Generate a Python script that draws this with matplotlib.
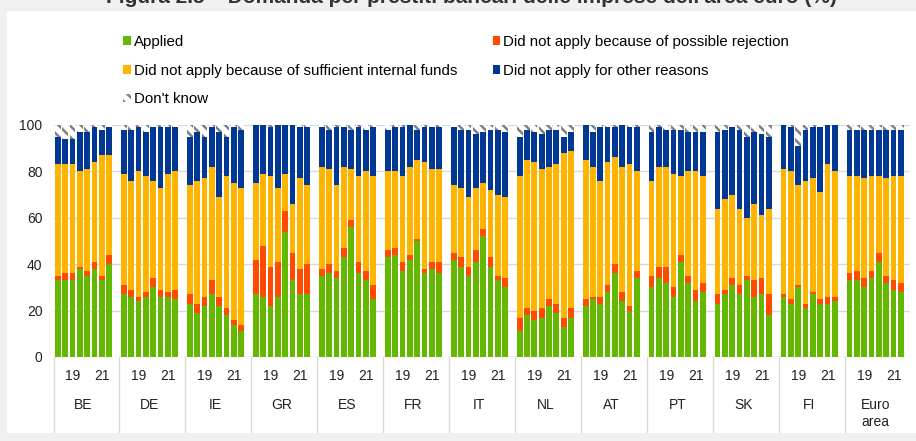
import numpy as np
import matplotlib.pyplot as plt
from matplotlib.patches import Rectangle
import matplotlib.transforms as mtransforms

# Countries and half-year survey rounds (8 per country, labelled 19 and 21)
countries = ["BE", "DE", "IE", "GR", "ES", "FR", "IT", "NL", "AT", "PT", "SK", "FI", "Euro\narea"]
year_labels = ["19", "21"]
year_pos = [2, 6]

# Shares of firms (%), one row per country
applied = [
    [33, 33, 33, 38, 35, 38, 33, 40],
    [27, 26, 24, 26, 30, 26, 26, 25],
    [23, 19, 22, 27, 22, 18, 14, 11],
    [27, 26, 22, 26, 54, 33, 27, 27],
    [35, 36, 34, 43, 56, 36, 33, 25],
    [43, 44, 37, 42, 50, 36, 38, 36],
    [42, 39, 35, 41, 52, 39, 33, 30],
    [11, 18, 16, 17, 22, 19, 13, 17],
    [22, 25, 23, 28, 36, 24, 20, 34],
    [30, 34, 32, 26, 41, 32, 24, 28],
    [23, 27, 31, 27, 33, 26, 27, 18],
    [26, 23, 30, 21, 27, 23, 23, 24],
    [33, 33, 30, 34, 41, 32, 29, 28],
]
rejection = [
    [2, 3, 3, 1, 2, 3, 2, 4],
    [4, 3, 2, 2, 4, 3, 2, 4],
    [4, 4, 4, 6, 4, 3, 2, 3],
    [15, 22, 17, 15, 9, 12, 11, 13],
    [3, 4, 3, 4, 3, 5, 4, 6],
    [3, 3, 4, 2, 1, 2, 3, 5],
    [3, 4, 4, 5, 3, 4, 2, 4],
    [6, 3, 4, 4, 3, 4, 4, 4],
    [3, 1, 3, 3, 4, 4, 2, 3],
    [5, 5, 7, 4, 3, 3, 5, 4],
    [4, 2, 3, 4, 2, 7, 7, 9],
    [1, 2, 1, 2, 1, 2, 3, 2],
    [3, 4, 4, 3, 4, 3, 4, 4],
]
internal_funds = [
    [48, 47, 47, 41, 44, 43, 52, 43],
    [48, 47, 54, 50, 42, 44, 51, 51],
    [47, 53, 51, 49, 43, 57, 59, 59],
    [33, 31, 39, 32, 16, 21, 39, 34],
    [44, 41, 37, 35, 22, 37, 43, 47],
    [34, 33, 37, 38, 34, 46, 40, 40],
    [29, 30, 30, 27, 20, 29, 35, 35],
    [61, 64, 64, 60, 57, 60, 71, 68],
    [60, 56, 50, 53, 46, 54, 61, 43],
    [41, 43, 43, 49, 34, 45, 51, 46],
    [37, 39, 36, 33, 25, 33, 27, 37],
    [54, 55, 43, 53, 49, 46, 57, 54],
    [42, 41, 43, 41, 33, 42, 45, 46],
]
other_reasons = [
    [12, 11, 11, 17, 16, 15, 11, 12],
    [19, 22, 19, 19, 23, 26, 20, 19],
    [21, 21, 18, 17, 28, 17, 24, 25],
    [25, 21, 21, 27, 21, 34, 22, 25],
    [17, 17, 25, 17, 17, 21, 18, 21],
    [18, 19, 21, 18, 13, 15, 18, 18],
    [25, 25, 29, 23, 22, 26, 28, 28],
    [17, 13, 13, 15, 16, 15, 7, 8],
    [15, 15, 23, 15, 13, 18, 16, 19],
    [21, 17, 16, 19, 20, 17, 17, 19],
    [33, 30, 29, 34, 35, 31, 35, 31],
    [19, 19, 17, 22, 22, 28, 17, 20],
    [20, 20, 21, 20, 20, 21, 20, 20],
]
dont_know = [
    [5, 6, 6, 3, 3, 1, 2, 1],
    [2, 2, 1, 3, 1, 1, 1, 1],
    [5, 3, 5, 1, 3, 5, 1, 2],
    [0, 0, 1, 0, 0, 0, 1, 1],
    [1, 2, 1, 1, 2, 1, 2, 1],
    [2, 1, 1, 0, 2, 1, 1, 1],
    [1, 2, 2, 4, 3, 2, 2, 3],
    [5, 2, 3, 4, 2, 2, 5, 3],
    [0, 3, 1, 1, 1, 0, 1, 1],
    [3, 1, 2, 2, 2, 3, 3, 3],
    [3, 2, 1, 2, 5, 3, 4, 5],
    [0, 1, 9, 2, 1, 1, 0, 0],
    [2, 2, 2, 2, 2, 2, 2, 2],
]

series = [
    ("Applied", applied, "#65b800"),
    ("Did not apply because of possible rejection", rejection, "#ff4b00"),
    ("Did not apply because of sufficient internal funds", internal_funds, "#ffb400"),
    ("Did not apply for other reasons", other_reasons, "#003894"),
]

plt.rcParams["font.family"] = ["Liberation Sans", "DejaVu Sans"]
plt.rcParams["hatch.linewidth"] = 1.8
plt.rcParams["hatch.color"] = "#808080"

W, H = 916, 441
fig = plt.figure(figsize=(W / 100, H / 100), dpi=100, facecolor="#f0f0f0")
fig.add_artist(Rectangle((7 / W, 8 / H), 909 / W, 422 / H, transform=fig.transFigure,
                         facecolor="white", edgecolor="none", zorder=0))
# title is partly cut at the top edge, as in the source image
fig.text(471 / W, 1 - 3 / H,
         "Figura 2.5 \u2013 Domanda per prestiti bancari delle imprese dell'area euro (%)",
         ha="center", va="baseline", fontsize=15, fontweight="bold", color="#333333")

ax = fig.add_axes([53.5 / W, 84 / H, 856.5 / W, 232 / H])
ax.set_facecolor("none")

n_per = 8
gap = 9
x = np.concatenate([g * gap + np.arange(n_per) for g in range(len(countries))])

bottom = np.zeros(len(x))
handles = {}
for label, vals, color in series:
    v = np.asarray(vals, dtype=float).ravel()
    handles[label] = ax.bar(x, v, width=0.78, bottom=bottom, color=color,
                            linewidth=0, label=label)
    bottom += v
dk = np.asarray(dont_know, dtype=float).ravel()
handles["Don't know"] = ax.bar(x, dk, width=0.78, bottom=bottom, facecolor="white",
                               edgecolor="#808080", hatch="\\\\\\", linewidth=0,
                               label="Don't know")

ax.set_xlim(-0.6, 116.25)
ax.set_ylim(0, 100)
ax.set_yticks(range(0, 101, 20))
ax.yaxis.grid(True, color="#d9d9d9", linewidth=1)
ax.set_axisbelow(True)
for s in ax.spines.values():
    s.set_visible(False)

xt = [g * gap + p for g in range(len(countries)) for p in year_pos]
ax.set_xticks(xt)
ax.set_xticklabels(year_labels * len(countries))
ax.tick_params(axis="x", length=0, pad=9, labelsize=10, labelcolor="#222222")
ax.tick_params(axis="y", length=0, pad=8, labelsize=10, labelcolor="#222222")

trans = mtransforms.blended_transform_factory(ax.transData, ax.transAxes)
for g, name in enumerate(countries):
    ax.text(g * gap + 3.5, -0.178, name, transform=trans, ha="center", va="top",
            fontsize=10, color="#222222", linespacing=1.25)
    ax.plot([g * gap - 0.6] * 2, [0, -0.323], transform=trans, color="#d9d9d9",
            linewidth=1, clip_on=False)

order = ["Applied", "Did not apply because of sufficient internal funds", "Don't know",
         "Did not apply because of possible rejection", "Did not apply for other reasons"]
fig.legend([handles[k] for k in order], order, loc="upper left",
           bbox_to_anchor=(123 / W, 1 - 35 / H), ncol=2, frameon=False,
           fontsize=10.8, handlelength=0.5, handleheight=0.5, handletextpad=0.2,
           labelspacing=0.98, columnspacing=2.4, borderpad=0, borderaxespad=0)

fig.savefig("out.png", dpi=100, facecolor=fig.get_facecolor())
